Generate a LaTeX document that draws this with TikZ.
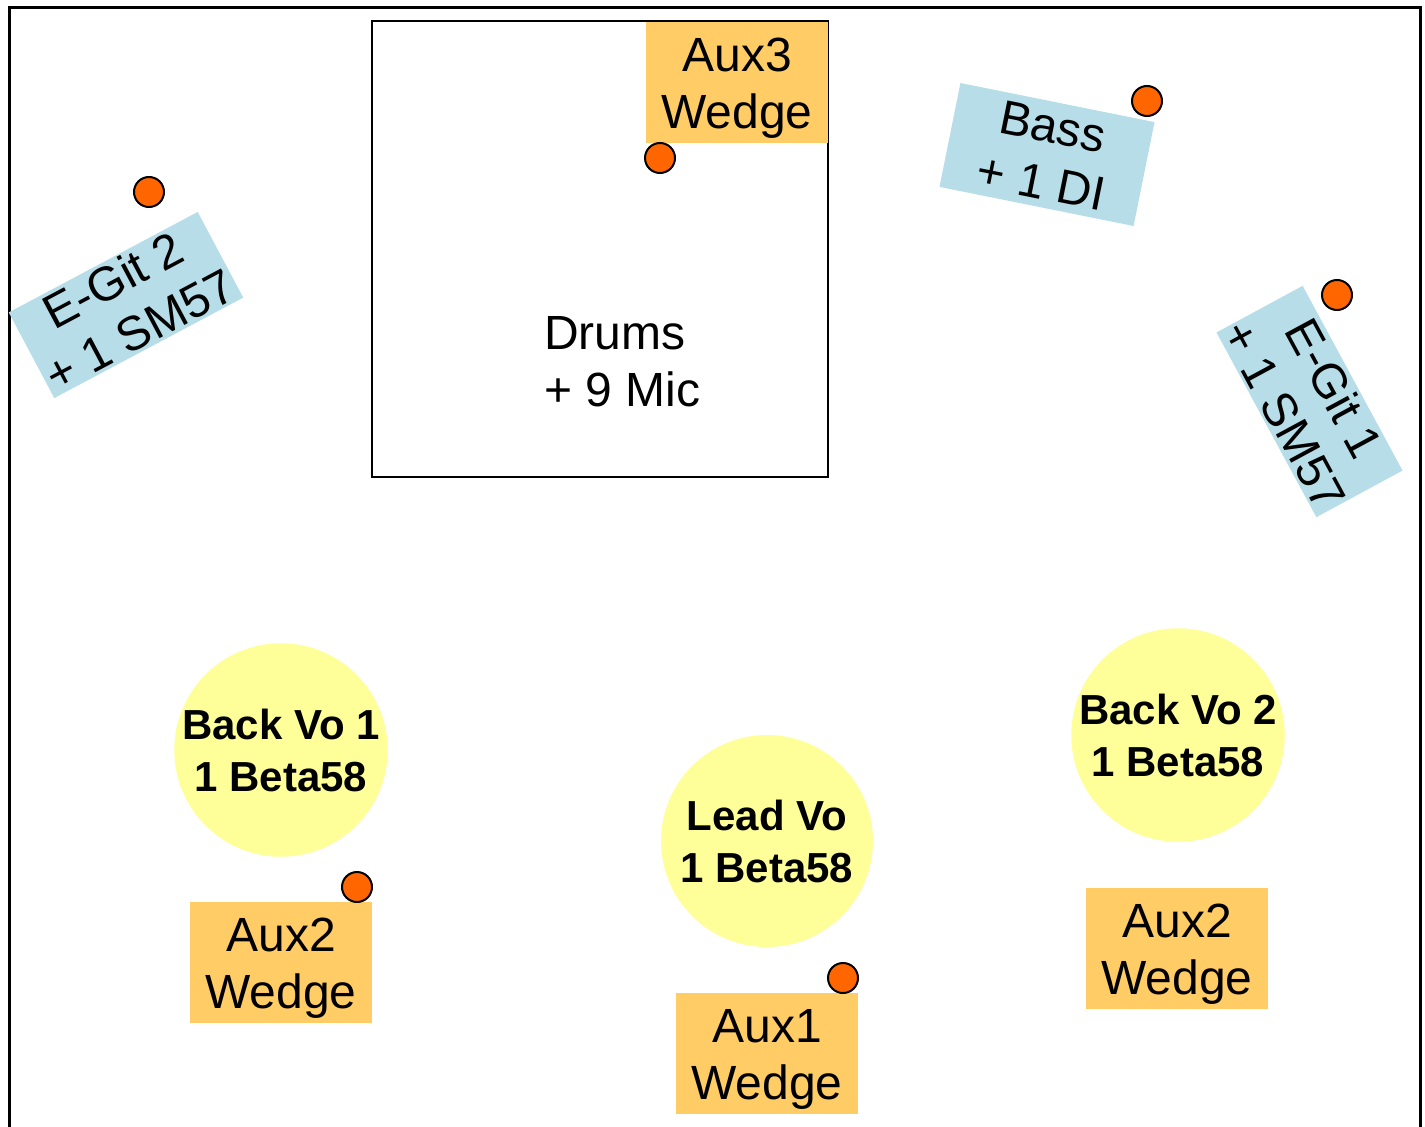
\documentclass[tikz,border=0pt]{standalone}
\usepackage{fontspec}
\setmainfont{Liberation Sans}
\definecolor{wedgeor}{RGB}{255,204,102}
\definecolor{voyel}{RGB}{255,255,153}
\definecolor{instblue}{RGB}{183,222,232}
\definecolor{micor}{RGB}{255,102,0}
\tikzset{
  wedge/.style={fill=wedgeor, minimum width=182pt, minimum height=121pt, inner sep=0pt},
  wedgetext/.style={yshift=-6pt, inner sep=0pt, align=center, font=\fontsize{48}{57}\selectfont},
  voc/.style={circle, fill=voyel, minimum size=212pt, inner sep=0pt, align=center, font=\fontsize{42}{52}\selectfont\bfseries},
  inst/.style={fill=instblue, inner sep=0pt, align=center, font=\fontsize{48}{57}\selectfont},
  mic/.style={circle, fill=micor, draw=black, line width=2pt, minimum size=30pt, inner sep=0pt},
}
\begin{document}
\begin{tikzpicture}[x=1pt,y=-1pt]
\useasboundingbox (0,0) rectangle (1425,1127);
% outer frame
\draw[line width=3pt] (9,1127) -- (9,7) -- (1420,7) -- (1420,1127);
% drums riser
\draw[line width=2pt] (372,21) rectangle (828,477);
\node[anchor=west, inner sep=0pt, align=left, font=\fontsize{48}{57}\selectfont] (drums) at (544,362) {Drums\\+ 9 Mic};
% wedges
\node[wedge, label={[wedgetext]center:Aux3\\Wedge}] (aux3) at (737,82) {};
\node[wedge, label={[wedgetext]center:Aux2\\Wedge}] (aux2l) at (281,962.5) {};
\node[wedge, label={[wedgetext]center:Aux1\\Wedge}] (aux1) at (767,1053.5) {};
\node[wedge, label={[wedgetext]center:Aux2\\Wedge}] (aux2r) at (1177,948) {};
% vocals
\node[voc] (bv1) at (281,750) {Back Vo 1\\1 Beta58};
\node[voc] (lv) at (767,841) {Lead Vo\\1 Beta58};
\node[voc] (bv2) at (1178,735) {Back Vo 2\\1 Beta58};
% instruments
\node[inst, rotate=28, minimum width=214pt, minimum height=97pt] (egit2) at (126,305) {E-Git 2\\+ 1 SM57};
\node[inst, rotate=-11.4, minimum width=198pt, minimum height=106pt] (bass) at (1047,154.5) {Bass\\+ 1 DI};
\node[inst, rotate=-61.6, minimum width=210pt, minimum height=98pt] (egit1) at (1309.5,401.5) {E-Git 1\\+ 1 SM57};
% microphones / DI
\node[mic] (m1) at (660,158) {};
\node[mic] (m2) at (149,192) {};
\node[mic] (m3) at (1147,101) {};
\node[mic] (m4) at (1337,295) {};
\node[mic] (m5) at (357,887) {};
\node[mic] (m6) at (843,978) {};
\end{tikzpicture}
\end{document}
